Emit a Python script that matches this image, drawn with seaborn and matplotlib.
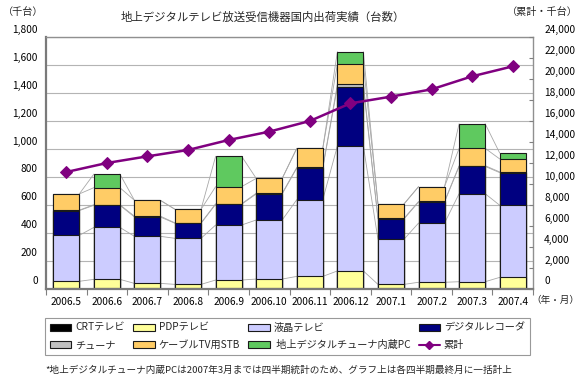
import numpy as np
import pandas as pd
import matplotlib
matplotlib.use("Agg")
import matplotlib.pyplot as plt
import matplotlib.transforms as mtransforms
from matplotlib.patches import Patch
from matplotlib.lines import Line2D
import seaborn as sns

# values (thousand units)
months = ['2006.5', '2006.6', '2006.7', '2006.8', '2006.9', '2006.10',
          '2006.11', '2006.12', '2007.1', '2007.2', '2007.3', '2007.4']
crt = [5, 5, 5, 5, 5, 5, 5, 5, 5, 5, 5, 5]
pdp = [50, 64, 35, 28, 59, 66, 85, 124, 28, 43, 47, 78]
lcd = [328, 371, 336, 329, 393, 422, 548, 892, 322, 423, 629, 515]
recorder = [177, 158, 138, 107, 148, 186, 226, 422, 145, 150, 195, 233]
tuner = [3, 4, 6, 3, 4, 5, 4, 19, 4, 4, 5, 5]
stb = [116, 122, 113, 97, 122, 106, 137, 143, 103, 106, 124, 93]
pc = [0, 97, 0, 0, 217, 0, 0, 90, 0, 0, 176, 42]
cumulative = [11140, 12000, 12635, 13240, 14190, 14985, 16000, 17680,
              18320, 19015, 20255, 21205]

series_names = ['CRTテレビ', 'PDPテレビ', '液晶テレビ', 'デジタルレコーダ',
                'チューナ', 'ケーブルTV用STB', ' 地上デジタルチューナ内蔵PC']
series_colors = ['#000000', '#FFFF99', '#CCCCFF', '#000080',
                 '#C0C0C0', '#FFCC66', '#5FC95F']

sns.set_theme(style='white')
plt.rcParams['font.family'] = ['Noto Sans CJK JP', 'DejaVu Sans']

df = pd.DataFrame({'CRT': crt, 'PDP': pdp, 'LCD': lcd, 'REC': recorder,
                   'TUN': tuner, 'STB': stb, 'PC': pc}, index=months)
levels = df.cumsum(axis=1)

fig = plt.figure(figsize=(5.8, 3.81), dpi=100)
ax = fig.add_axes([46/580, 1-289/381, 487/580, 252/381])

# stacked bars: draw cumulative levels from the top down
for col, color in reversed(list(zip(levels.columns, series_colors))):
    sns.barplot(x=months, y=levels[col].values, order=months, color=color,
                saturation=1, width=0.64, edgecolor='#1a1a1a', linewidth=0.8,
                ax=ax, zorder=2)

# series lines joining the stack boundaries
half = 0.32
for col in levels.columns:
    v = levels[col].values
    for i in range(len(months) - 1):
        ax.plot([i + half, i + 1 - half], [v[i], v[i + 1]],
                color='#A8A8A8', lw=0.6, zorder=1)

ax.set_xlim(-0.5, len(months) - 0.5)
ax.set_ylim(0, 1800)
ax.set_yticks(np.arange(0, 1801, 200))
ax.set_yticklabels([f'{v:,}' for v in range(0, 1801, 200)])
ax.set_axisbelow(True)
ax.yaxis.grid(True, color='#B4B4B4', lw=0.8)
ax.xaxis.grid(False)
ax.set_xlabel('')
ax.set_ylabel('')
ax.set_xticks(np.arange(len(months)))
ax.set_xticklabels(months)
ax.set_xticks(np.arange(-0.5, len(months)), minor=True)
ax.tick_params(axis='x', which='major', length=0, pad=5.5, labelsize=7.3,
               colors='black')
ax.tick_params(axis='x', which='minor', length=4, width=0.8,
               color='#808080', direction='out', bottom=True)
ax.tick_params(axis='y', length=0, pad=6, labelsize=7.3, colors='black')
for s in ['left', 'bottom']:
    ax.spines[s].set_color('#7a7a7a')
    ax.spines[s].set_linewidth(1.6)
for s in ['top', 'right']:
    ax.spines[s].set_color('#909090')
    ax.spines[s].set_linewidth(1.0)

# cumulative line on the right axis
ax2 = ax.twinx()
sns.lineplot(x=np.arange(len(months)), y=cumulative, ax=ax2, color='#800080',
             lw=1.8, marker='D', markersize=6, markeredgecolor='#800080',
             sort=False, zorder=5)
ax2.set_ylim(0, 24000)
ax2.set_yticks(np.arange(0, 24001, 2000))
ax2.set_yticklabels([f'{v:,}' for v in range(0, 24001, 2000)])
ax2.tick_params(axis='y', length=3, width=0.8, direction='in',
                color='#808080', pad=8, labelsize=7.3, colors='black')
for s in ax2.spines.values():
    s.set_visible(False)
ax2.set_xlim(-0.5, len(months) - 0.5)

# y labels sit a little above their gridlines, as in the original
shift = mtransforms.ScaledTranslation(0, 8.5/100, fig.dpi_scale_trans)
for lab in ax.get_yticklabels() + ax2.get_yticklabels():
    lab.set_transform(lab.get_transform() + shift)

fig.text(263/580, 1-17/381, '地上デジタルテレビ放送受信機器国内出荷実績（台数）',
         ha='center', va='center', fontsize=8.2)
fig.text(3/580, 1-12/381, '（千台）', ha='left', va='center', fontsize=7.3)
fig.text(578/580, 1-12/381, '（累計・千台）', ha='right', va='center', fontsize=7.3)
fig.text(579/580, 1-300/381, '（年・月）', ha='right', va='center', fontsize=6.9)

handles = [Patch(facecolor=c, edgecolor='#1a1a1a', lw=0.8) for c in series_colors]
handles.append(Line2D([], [], color='#800080', lw=1.5, marker='D', markersize=4))
labels = series_names + ['累計']
order = [0, 4, 1, 5, 2, 6, 3, 7]
leg = fig.legend([handles[i] for i in order], [labels[i] for i in order],
                 loc='upper left', ncol=4, mode='expand',
                 bbox_to_anchor=(45/580, 1-318/381, 485/580, 0.001),
                 fontsize=7.3, frameon=True, fancybox=False,
                 edgecolor='#808080', handlelength=2.1, handleheight=0.7,
                 handletextpad=0.4, labelspacing=0.75, borderpad=0.5,
                 borderaxespad=0)
leg.get_frame().set_linewidth(0.8)

fig.text(45/580, 1-370/381,
         '*地上デジタルチューナ内蔵PCは2007年3月までは四半期統計のため、グラフ上は各四半期最終月に一括計上',
         ha='left', va='center', fontsize=6.9)

fig.savefig('out.png', dpi=100)
